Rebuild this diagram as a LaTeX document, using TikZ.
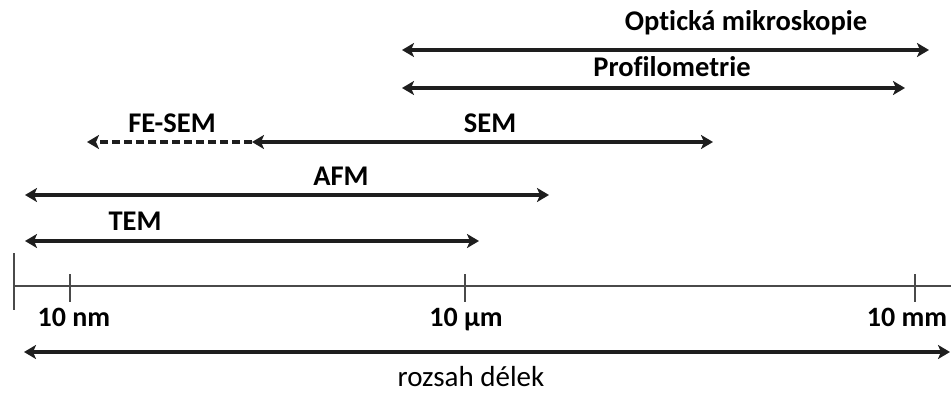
\documentclass[tikz,border=0pt]{standalone}
\usepackage{fontspec}
\setmainfont{Carlito}[Ligatures=NoCommon]
\usetikzlibrary{arrows.meta, positioning}
\definecolor{cdark}{HTML}{1E1E1E}
\definecolor{caxis}{HTML}{4A4A4A}
\tikzset{
  every picture/.style={x=1pt, y=-1pt},
  span/.style={{Stealth[length=12pt, width=14pt, inset=3pt]}-{Stealth[length=12pt, width=14pt, inset=3pt]}, draw=cdark, line width=3.4pt},
  dashspan/.style={-{Stealth[length=12pt, width=14pt, inset=3pt]}, draw=cdark, line width=3.4pt, dash pattern=on 8pt off 4pt},
  scaleline/.style={draw=caxis, line width=1.6pt},
  lbl/.style={font=\fontsize{28.5}{32}\selectfont\bfseries, text=black, inner sep=0pt, anchor=base},
  ticklbl/.style={font=\fontsize{28}{32}\selectfont\bfseries, text=black, inner sep=0pt, anchor=base},
  note/.style={font=\fontsize{29}{33}\selectfont, text=black, inner sep=0pt, text depth=0pt, anchor=base},
}

\begin{document}
\begin{tikzpicture}
  \useasboundingbox (0,0) rectangle (951,394);
  % range ends
  \coordinate (opt-l) at (402,50);  \coordinate (opt-r) at (929,50);
  \coordinate (pro-l) at (402,88);  \coordinate (pro-r) at (905,88);
  \coordinate (fe-l) at (87,142);   \coordinate (sem-l) at (252,142);
  \coordinate (sem-r) at (713,142);
  \coordinate (afm-l) at (25,195);  \coordinate (afm-r) at (549,195);
  \coordinate (tem-l) at (25,241);  \coordinate (tem-r) at (479,241);
  \coordinate (len-l) at (24,352);  \coordinate (len-r) at (950,352);
  % labels
  \node[lbl] (opt) at (746,30) {Optická mikroskopie};
  \node[lbl] (pro) at (672,76) {Profilometrie};
  \node[lbl] (fesem) at (172,132) {FE-SEM};
  \node[lbl] (sem) at (490,132) {SEM};
  \node[lbl] (afm) at (341,185) {AFM};
  \node[lbl] (tem) at (135,230) {TEM};
  % ranges
  \draw[span] (opt-l) -- (opt-r);
  \draw[span] (pro-l) -- (pro-r);
  \draw[dashspan] (sem-l) -- (fe-l);
  \draw[span] (sem-l) -- (sem-r);
  \draw[span] (afm-l) -- (afm-r);
  \draw[span] (tem-l) -- (tem-r);
  % scale
  \coordinate (ax-l) at (14,286); \coordinate (ax-r) at (951,286);
  \draw[scaleline] (ax-l) -- (ax-r);
  \draw[scaleline] (14,253) -- (14,310);
  \foreach \x in {70, 465, 915} {
    \draw[scaleline] (\x,274) -- (\x,302);
  }
  \node[ticklbl] (t-nm) at (74,326) {10 nm};
  \node[ticklbl] (t-um) at (466,326) {10 µm};
  \node[ticklbl] (t-mm) at (907,326) {10 mm};
  \draw[span] (len-l) -- (len-r);
  \node[note] (len) at (471,386) {rozsah délek};
\end{tikzpicture}
\end{document}
